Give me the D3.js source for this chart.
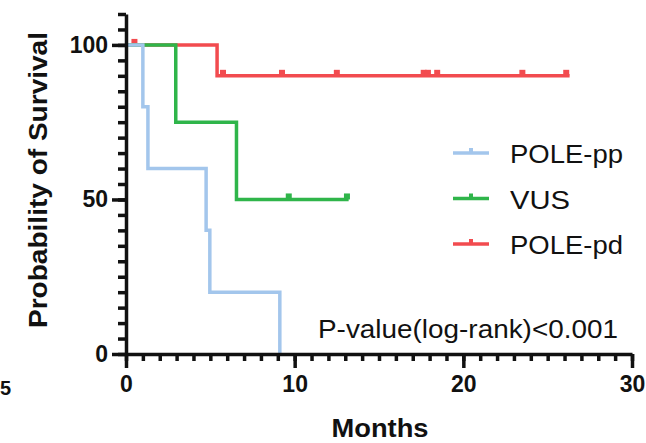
<!DOCTYPE html>
<html>
<head>
<meta charset="utf-8">
<script src="https://cdn.jsdelivr.net/npm/d3@7"></script>
<style>
  html, body { margin: 0; padding: 0; background: #fff; }
  svg { display: block; font-family: "Liberation Sans", Arial, Helvetica, sans-serif; }
</style>
</head>
<body>
<svg id="chart" width="646" height="443"></svg>
<script>
// Kaplan–Meier survival by POLE variant group
const xTickValues = [0, 10, 20, 30];
const yTickValues = [0, 50, 100];
const seriesNames = ["POLE-pp", "VUS", "POLE-pd"];
const seriesColors = ["#a3c6ec", "#2fb54a", "#f24b4f"];

// step curves: [month, survival %]
const polePpSteps = [[0, 100], [1.0, 80], [1.3, 60], [4.75, 40], [4.97, 20], [9.12, 0]];
const vusSteps = [[0, 100], [2.95, 75], [6.55, 50]];
const polePdSteps = [[0, 100], [5.4, 90]];
// last follow-up of each curve
const followUpEnd = [9.12, 13.2, 26.3];
// censored observations (months)
const polePpCensor = [];
const vusCensor = [9.65, 13.1];
const polePdCensor = [0.5, 5.75, 9.25, 12.5, 17.65, 17.9, 18.45, 23.5, 26.1];

const pValueText = "P-value(log-rank)<0.001";

const svg = d3.select("#chart");
const x = d3.scaleLinear().domain([0, 30]).range([126, 632]);
const y = d3.scaleLinear().domain([0, 110]).range([354, 14]);

// survival value at time t from a step list
function survAt(steps, t) {
  let s = steps[0][1];
  for (const [ti, si] of steps) if (ti <= t) s = si;
  return s;
}

const series = [
  { name: seriesNames[0], color: seriesColors[0], steps: polePpSteps, end: followUpEnd[0], censor: polePpCensor, labelWidth: 113 },
  { name: seriesNames[1], color: seriesColors[1], steps: vusSteps, end: followUpEnd[1], censor: vusCensor, labelWidth: 60 },
  { name: seriesNames[2], color: seriesColors[2], steps: polePdSteps, end: followUpEnd[2], censor: polePdCensor, labelWidth: 113 }
];

const stepLine = d3.line().x(d => x(d[0])).y(d => y(d[1])).curve(d3.curveStepAfter);

// draw in reverse so the POLE-pp curve sits on top
const curves = svg.append("g");
series.slice().reverse().forEach(s => {
  const pts = s.steps.concat([[s.end, s.steps[s.steps.length - 1][1]]]);
  curves.append("path")
    .attr("d", stepLine(pts))
    .attr("fill", "none")
    .attr("stroke", s.color)
    .attr("stroke-width", 3.5);
  curves.selectAll(null)
    .data(s.censor)
    .enter().append("line")
    .attr("x1", d => x(d)).attr("x2", d => x(d))
    .attr("y1", d => y(survAt(s.steps, d)))
    .attr("y2", d => y(survAt(s.steps, d)) - 6)
    .attr("stroke", s.color)
    .attr("stroke-width", 6);
});

// axes
function styleAxis(g) {
  g.selectAll("path.domain").attr("stroke", "#111").attr("stroke-width", 3.5);
  g.selectAll(".tick line").attr("stroke", "#111").attr("stroke-width", 3.5);
}
function styleTickText(g) {
  g.selectAll("text").attr("font-size", 23).attr("font-weight", "bold").attr("fill", "#111")
    .attr("font-family", "'Liberation Sans', Arial, sans-serif");
}

const yMinor = svg.append("g").attr("transform", `translate(${x(0)},0)`)
  .call(d3.axisLeft(y).tickValues(d3.range(0, 111, 5)).tickSize(8).tickSizeOuter(0).tickFormat(""));
styleAxis(yMinor);
const yMajor = svg.append("g").attr("transform", `translate(${x(0)},0)`)
  .call(d3.axisLeft(y).tickValues(yTickValues).tickSize(14).tickSizeOuter(0).tickPadding(4));
styleAxis(yMajor);
yMajor.select("path.domain").remove();
styleTickText(yMajor);

const xMinor = svg.append("g").attr("transform", `translate(0,${y(0)})`)
  .call(d3.axisBottom(x).tickValues(d3.range(0, 31, 1)).tickSize(7).tickSizeOuter(0).tickFormat(""));
styleAxis(xMinor);
const xMajor = svg.append("g").attr("transform", `translate(0,${y(0)})`)
  .call(d3.axisBottom(x).tickValues(xTickValues).tickSize(14).tickSizeOuter(0).tickPadding(8));
styleAxis(xMajor);
xMajor.select("path.domain").remove();
styleTickText(xMajor);

// axis titles
svg.append("text")
  .attr("x", 380).attr("y", 437)
  .attr("text-anchor", "middle")
  .attr("font-size", 25).attr("font-weight", "bold").attr("fill", "#111")
  .attr("textLength", 97).attr("lengthAdjust", "spacingAndGlyphs")
  .text("Months");

svg.append("text")
  .attr("transform", "translate(47,180) rotate(-90)")
  .attr("text-anchor", "middle")
  .attr("font-size", 25).attr("font-weight", "bold").attr("fill", "#111")
  .attr("textLength", 296).attr("lengthAdjust", "spacingAndGlyphs")
  .text("Probability of Survival");

// legend
const legend = svg.append("g");
series.forEach((s, i) => {
  const ly = 153 + i * 45.5;
  legend.append("line")
    .attr("x1", 453).attr("x2", 489).attr("y1", ly).attr("y2", ly)
    .attr("stroke", s.color).attr("stroke-width", 3.5);
  legend.append("line")
    .attr("x1", 471).attr("x2", 471).attr("y1", ly).attr("y2", ly - 5)
    .attr("stroke", s.color).attr("stroke-width", 4);
  legend.append("text")
    .attr("x", 510).attr("y", ly + 10)
    .attr("font-size", 25).attr("fill", "#111")
    .attr("textLength", s.labelWidth).attr("lengthAdjust", "spacingAndGlyphs")
    .text(s.name);
});

// log-rank test result
svg.append("text")
  .attr("x", 318).attr("y", 338)
  .attr("font-size", 25).attr("fill", "#111")
  .attr("textLength", 300).attr("lengthAdjust", "spacingAndGlyphs")
  .text(pValueText);

// edge of the neighbouring panel's axis label
svg.append("text")
  .attr("x", 0).attr("y", 395)
  .attr("font-size", 20).attr("font-weight", "bold").attr("fill", "#111")
  .text("5");
</script>
</body>
</html>
